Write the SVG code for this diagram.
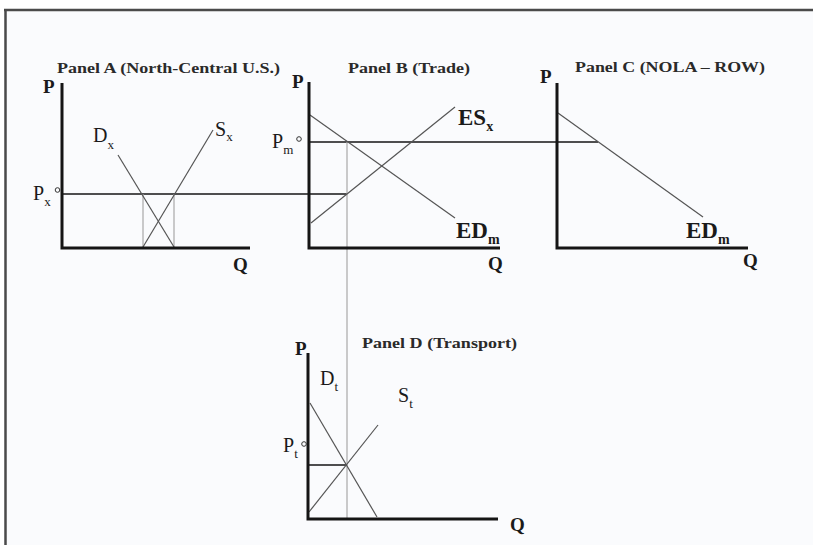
<svg xmlns="http://www.w3.org/2000/svg" width="813" height="545" viewBox="0 0 813 545">
<style>
text{font-family:"Liberation Serif","Times New Roman",serif;fill:#1a1a1a}
.title{font-size:15px;font-weight:bold;fill:#2a2a2a}
.ax{font-size:19px;font-weight:bold}
.lab{font-size:20px}
.sub{font-size:13px}
.blab{font-size:23px;font-weight:bold}
.bsub{font-size:14px;font-weight:bold}
.axis{stroke:#151515;stroke-width:3;fill:none}
.curve{stroke:#555;stroke-width:1.2;fill:none}
.price{stroke:#151515;stroke-width:1.3;fill:none}
.guide{stroke:#a8a8a8;stroke-width:1.2;fill:none}
.dot{fill:none;stroke:#333;stroke-width:1}
</style>
<rect x="0" y="0" width="813" height="545" fill="#fafbfd"/>
<rect x="0" y="0" width="813" height="9" fill="#ffffff"/>
<rect x="0" y="0" width="4" height="545" fill="#ffffff"/>
<line x1="4" y1="10" x2="813" y2="10" stroke="#4a4a4a" stroke-width="2.5"/>
<line x1="5.5" y1="9" x2="5.5" y2="545" stroke="#4a4a4a" stroke-width="2.5"/>

<g id="connectors">
<line class="price" x1="62" y1="194" x2="347" y2="194"/>
<line class="price" x1="309" y1="142" x2="598" y2="142"/>
<line class="guide" x1="347" y1="142" x2="347" y2="519"/>
<line class="price" x1="308" y1="465" x2="347" y2="465"/>
</g>

<g id="panelA">
<text class="title" x="57" y="73" textLength="223" lengthAdjust="spacingAndGlyphs">Panel A (North-Central U.S.)</text>
<line class="guide" x1="143" y1="194" x2="143" y2="248"/>
<line class="guide" x1="174" y1="194" x2="174" y2="248"/>
<line class="curve" x1="118" y1="155" x2="174" y2="247"/>
<line class="curve" x1="143" y1="247" x2="213" y2="130"/>
<polyline class="axis" points="62,83 62,248 250,248"/>
<text class="ax" x="43" y="93">P</text>
<text class="ax" x="233" y="271">Q</text>
<text class="lab" x="33" y="200">P<tspan class="sub" dy="6">x</tspan></text>
<circle class="dot" cx="57.5" cy="190" r="2.3"/>
<text class="lab" x="93" y="142">D<tspan class="sub" dy="7">x</tspan></text>
<text class="lab" x="215" y="136">S<tspan class="sub" dy="5">x</tspan></text>
</g>

<g id="panelB">
<text class="title" x="348" y="73" textLength="122" lengthAdjust="spacingAndGlyphs">Panel B (Trade)</text>
<line class="curve" x1="310" y1="115" x2="455" y2="218"/>
<line class="curve" x1="311" y1="223" x2="455" y2="107"/>
<polyline class="axis" points="309,82 309,248 500,248"/>
<text class="ax" x="292" y="88">P</text>
<text class="ax" x="488" y="270">Q</text>
<text class="lab" x="272" y="148">P<tspan class="sub" dy="6">m</tspan></text>
<circle class="dot" cx="299" cy="139" r="2.3"/>
<text class="blab" x="458" y="125">ES<tspan class="bsub" dy="6">x</tspan></text>
<text class="blab" x="456" y="238">ED<tspan class="bsub" dy="6">m</tspan></text>
</g>

<g id="panelC">
<text class="title" x="575" y="72" textLength="190" lengthAdjust="spacingAndGlyphs">Panel C (NOLA – ROW)</text>
<line class="curve" x1="558" y1="113" x2="703" y2="217"/>
<polyline class="axis" points="557,83 557,248 748,248"/>
<text class="ax" x="540" y="83">P</text>
<text class="ax" x="743" y="267">Q</text>
<text class="blab" x="686" y="238">ED<tspan class="bsub" dy="6">m</tspan></text>
</g>

<g id="panelD">
<text class="title" x="362" y="348" textLength="155" lengthAdjust="spacingAndGlyphs">Panel D (Transport)</text>
<line class="curve" x1="310" y1="403" x2="377" y2="517"/>
<line class="curve" x1="309" y1="512" x2="378" y2="425"/>
<polyline class="axis" points="308,353 308,519 498,519"/>
<text class="ax" x="295" y="355">P</text>
<text class="ax" x="510" y="531">Q</text>
<text class="lab" x="283" y="452">P<tspan class="sub" dy="6">t</tspan></text>
<circle class="dot" cx="304" cy="444" r="2.3"/>
<text class="lab" x="320" y="385">D<tspan class="sub" dy="6">t</tspan></text>
<text class="lab" x="398" y="402">S<tspan class="sub" dy="6">t</tspan></text>
</g>
</svg>
